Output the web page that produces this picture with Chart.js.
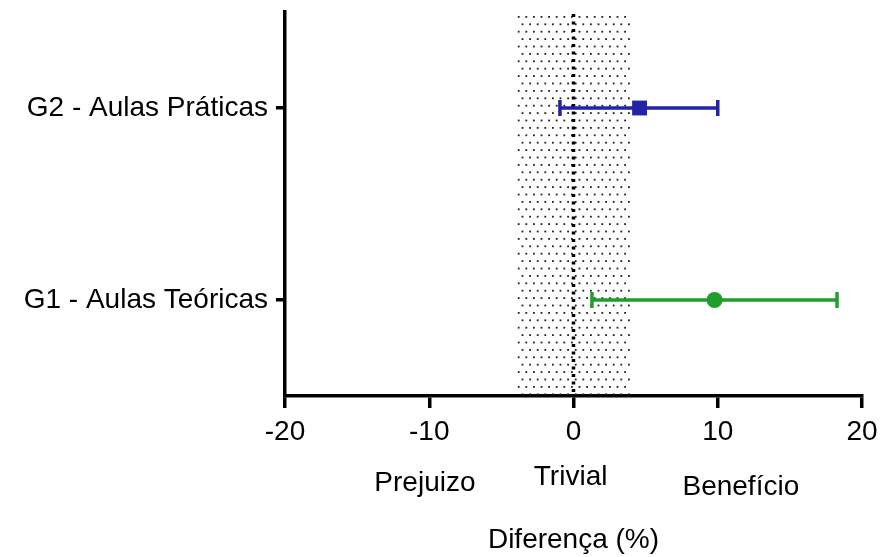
<!DOCTYPE html>
<html>
<head>
<meta charset="utf-8">
<script src="https://cdn.jsdelivr.net/npm/chart.js@4.4.0/dist/chart.umd.min.js"></script>
<style>
    html, body { margin: 0; padding: 0; background: #fff; }
</style>
</head>
<body>
<canvas id="myChart" width="881" height="557"></canvas>
<script>
// rows of the forest plot (bottom to top)
const groups = ['G1 - Aulas Teóricas', 'G2 - Aulas Práticas'];
const groupRows = [1, 3];
const means = [9.78, 4.58];
const lower = [1.28, -0.94];
const upper = [18.27, 10.0];
const colors = ['#1f9e2c', '#2323a8'];
const markers = ['circle', 'rect'];

const trivialZone = [-4, 4];
const zoneLabels = ['Prejuizo', 'Trivial', 'Benefício'];
const zoneLabelX = [-10.3, -0.2, 11.6];

const FONT = "'Liberation Sans', Arial, sans-serif";

const forestPlugin = {
    id: 'forest',
    beforeDatasetsDraw(chart) {
        const { ctx, chartArea, scales: { x, y } } = chart;
        const left = x.getPixelForValue(trivialZone[0]);
        const right = x.getPixelForValue(trivialZone[1]);
        ctx.save();

        // dotted "trivial" band
        ctx.fillStyle = '#222';
        let row = 0;
        for (let py = chartArea.top + 4; py < chartArea.bottom - 2; py += 7.4) {
            const shift = row % 2 ? 3.8 : 0;
            for (let px = left + 2 + shift; px < right - 1; px += 7.6) {
                ctx.fillRect(px, py, 1.8, 1.8);
            }
            row++;
        }

        // zero line
        const x0 = x.getPixelForValue(0);
        ctx.strokeStyle = '#000';
        ctx.lineWidth = 3.5;
        ctx.setLineDash([3, 4.5]);
        ctx.beginPath();
        ctx.moveTo(x0, chartArea.top + 2);
        ctx.lineTo(x0, chartArea.bottom);
        ctx.stroke();
        ctx.setLineDash([]);

        // error bars
        ctx.lineWidth = 3.5;
        groups.forEach((g, i) => {
            const py = y.getPixelForValue(groupRows[i]);
            const a = x.getPixelForValue(lower[i]);
            const b = x.getPixelForValue(upper[i]);
            ctx.strokeStyle = colors[i];
            ctx.beginPath();
            ctx.moveTo(a, py);
            ctx.lineTo(b, py);
            ctx.moveTo(a, py - 8);
            ctx.lineTo(a, py + 8);
            ctx.moveTo(b, py - 8);
            ctx.lineTo(b, py + 8);
            ctx.stroke();
        });
        ctx.restore();
    },
    afterDraw(chart) {
        const { ctx, scales: { x } } = chart;
        const yOffsets = [483, 477, 487];
        ctx.save();
        ctx.font = `28px ${FONT}`;
        ctx.fillStyle = '#000';
        ctx.textAlign = 'center';
        ctx.textBaseline = 'middle';
        zoneLabels.forEach((label, i) => {
            ctx.fillText(label, x.getPixelForValue(zoneLabelX[i]), yOffsets[i]);
        });
        ctx.restore();
    }
};

const ctx = document.getElementById('myChart').getContext('2d');

new Chart(ctx, {
    type: 'scatter',
    data: {
        datasets: groups.map((g, i) => ({
            label: g,
            data: [{ x: means[i], y: groupRows[i] }],
            pointStyle: markers[i],
            pointRadius: markers[i] === 'rect' ? 10.5 : 8,
            pointBackgroundColor: colors[i],
            pointBorderColor: colors[i],
            pointBorderWidth: 0,
        }))
    },
    options: {
        responsive: false,
        animation: false,
        layout: { padding: { top: 12, right: 19, left: 0, bottom: 0 } },
        plugins: {
            legend: { display: false },
            tooltip: { enabled: false },
        },
        scales: {
            x: {
                type: 'linear',
                min: -20,
                max: 20,
                ticks: { stepSize: 10, color: '#000', font: { family: FONT, size: 28 }, padding: 7 },
                grid: { drawOnChartArea: false, drawTicks: true, tickLength: 12, color: '#000', lineWidth: 3.5 },
                border: { color: '#000', width: 3.5 },
                title: { display: true, text: 'Diferença (%)', color: '#000', font: { family: FONT, size: 28 }, padding: { top: 0, bottom: 0 } },
                afterFit: (scale) => {
                    scale.height = 161;
                    scale.paddingLeft = 0;
                    scale.paddingRight = 0;
                },
            },
            y: {
                type: 'linear',
                min: 0,
                max: 4,
                afterBuildTicks: (scale) => { scale.ticks = groupRows.map(v => ({ value: v })); },
                ticks: {
                    color: '#000',
                    font: { family: FONT, size: 28 },
                    padding: 8,
                    callback: (value) => groups[groupRows.indexOf(value)],
                },
                grid: { drawOnChartArea: false, drawTicks: true, tickLength: 9, color: '#000', lineWidth: 3.5 },
                border: { color: '#000', width: 3.5 },
                afterFit: (scale) => {
                    scale.width = 285;
                    scale.paddingTop = 0;
                    scale.paddingBottom = 0;
                },
            }
        }
    },
    plugins: [forestPlugin],
});
</script>
</body>
</html>
